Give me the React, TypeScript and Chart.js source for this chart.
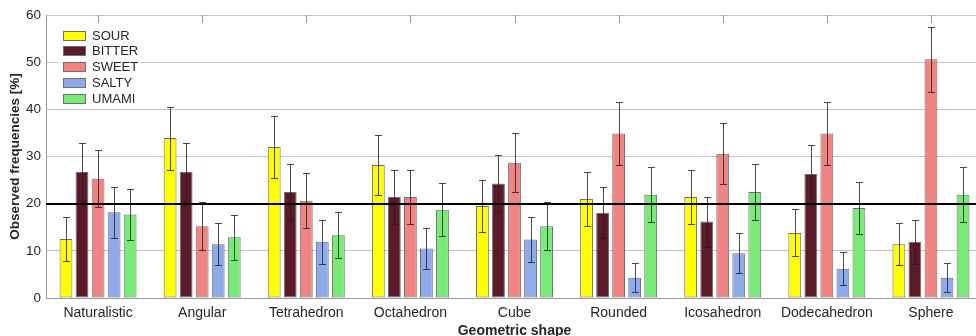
import React, { useEffect, useRef } from "react";
import { Chart, registerables } from "chart.js";

Chart.register(...registerables);

const categories = [
  "Naturalistic",
  "Angular",
  "Tetrahedron",
  "Octahedron",
  "Cube",
  "Rounded",
  "Icosahedron",
  "Dodecahedron",
  "Sphere",
];
const tastes = ["SOUR", "BITTER", "SWEET", "SALTY", "UMAMI"];
const sour = [12.5, 33.9, 32.0, 28.2, 19.5, 21.0, 21.4, 13.8, 11.4];
const bitter = [26.7, 26.7, 22.5, 21.4, 24.3, 18.1, 16.2, 26.3, 11.9];
const sweet = [25.3, 15.2, 20.6, 21.4, 28.7, 34.9, 30.6, 34.9, 50.6];
const salty = [18.2, 11.4, 11.9, 10.5, 12.4, 4.3, 9.5, 6.2, 4.3];
const umami = [17.7, 12.9, 13.3, 18.7, 15.2, 21.9, 22.5, 19.1, 21.9];
const sourErr = [4.7, 6.7, 6.5, 6.3, 5.5, 5.7, 5.8, 5.0, 4.5];
const bitterErr = [6.2, 6.2, 5.9, 5.8, 6.1, 5.45, 5.3, 6.15, 4.6];
const sweetErr = [6.1, 5.1, 5.8, 5.8, 6.3, 6.7, 6.45, 6.7, 6.9];
const saltyErr = [5.4, 4.5, 4.6, 4.35, 4.7, 3.1, 4.3, 3.5, 3.1];
const umamiErr = [5.4, 4.8, 4.9, 5.6, 5.1, 5.85, 5.9, 5.5, 5.85];
const chanceLevel = 20;
const yMin = 0;
const yMax = 60;
const yStep = 10;

const colors = ["#ffff00", "#5b1a27", "#f08482", "#8eaaea", "#78ea78"];
const FONT = "'Liberation Sans', Arial, Helvetica, sans-serif";
const TEXT = "#262626";

const overlayPlugin = {
  id: "overlay",
  beforeDatasetsDraw(chart: any) {
    const { ctx, chartArea, scales } = chart;
    const xs = scales.x;
    ctx.save();
    ctx.strokeStyle = "#9a9a9a";
    ctx.lineWidth = 1;
    for (let i = 0; i < xs.ticks.length; i++) {
      const px = Math.round(xs.getPixelForTick(i)) + 0.5;
      ctx.beginPath();
      ctx.moveTo(px, chartArea.top);
      ctx.lineTo(px, chartArea.top + 8);
      ctx.stroke();
    }
    ctx.restore();
  },
  afterDatasetsDraw(chart: any) {
    const { ctx, chartArea, scales } = chart;
    const ys = scales.y;
    ctx.save();
    // error bars
    ctx.strokeStyle = "rgba(30,30,30,0.8)";
    ctx.lineWidth = 1;
    chart.data.datasets.forEach((ds: any, i: number) => {
      const meta = chart.getDatasetMeta(i);
      meta.data.forEach((bar: any, j: number) => {
        const v = ds.data[j];
        const e = ds.errors[j];
        const cx = Math.round(bar.x) + 0.5;
        const yt = Math.round(ys.getPixelForValue(v + e)) + 0.5;
        const yb = Math.round(ys.getPixelForValue(v - e)) + 0.5;
        ctx.beginPath();
        ctx.moveTo(cx, yt);
        ctx.lineTo(cx, yb);
        ctx.moveTo(cx - 3.5, yt);
        ctx.lineTo(cx + 3.5, yt);
        ctx.moveTo(cx - 3.5, yb);
        ctx.lineTo(cx + 3.5, yb);
        ctx.stroke();
      });
    });
    // chance line
    const yc = Math.round(ys.getPixelForValue(chanceLevel));
    ctx.strokeStyle = "#000";
    ctx.lineWidth = 2;
    ctx.beginPath();
    ctx.moveTo(chartArea.left, yc);
    ctx.lineTo(chartArea.right, yc);
    ctx.stroke();

    // legend
    const lx = chartArea.left + 16.5;
    const ly = chartArea.top + 15.5;
    const rowH = 15.9;
    ctx.fillStyle = "#ffffff";
    ctx.fillRect(lx - 4, ly - 3, 82, 78);
    ctx.font = `13px ${FONT}`;
    ctx.textBaseline = "middle";
    ctx.textAlign = "left";
    chart.data.datasets.forEach((ds: any, i: number) => {
      const by = Math.round(ly + i * rowH);
      ctx.fillStyle = ds.backgroundColor;
      ctx.fillRect(Math.round(lx), by, 23, 10);
      ctx.strokeStyle = "#6e6e6e";
      ctx.lineWidth = 1;
      ctx.strokeRect(Math.round(lx) + 0.5, by + 0.5, 22, 9);
      ctx.fillStyle = TEXT;
      ctx.fillText(ds.label, lx + 29.5, by + 5.5);
    });
    ctx.restore();
  },
};

export default function App() {
  const ref = useRef<HTMLCanvasElement | null>(null);
  useEffect(() => {
    if (!ref.current) return;
    const values = [sour, bitter, sweet, salty, umami];
    const errs = [sourErr, bitterErr, sweetErr, saltyErr, umamiErr];
    const chart = new Chart(ref.current, {
      type: "bar",
      data: {
        labels: categories,
        datasets: tastes.map((t, i) => ({
          label: t,
          data: values[i],
          errors: errs[i],
          backgroundColor: colors[i],
          borderColor: "#6e6e6e",
          borderWidth: 1,
          borderSkipped: false,
          categoryPercentage: 0.77,
          barPercentage: 0.8,
        })) as any,
      },
      options: {
        responsive: false,
        animation: false,
        devicePixelRatio: 1,
        layout: { padding: { top: 15, left: 0, right: 0, bottom: 0 } },
        plugins: { legend: { display: false }, tooltip: { enabled: false } },
        scales: {
          x: {
            grid: { display: false, drawTicks: false },
            border: { display: true, color: "#9a9a9a", width: 1 },
            ticks: {
              color: TEXT,
              font: { family: FONT, size: 14 },
              padding: 7,
              maxRotation: 0,
              autoSkip: false,
            },
            title: {
              display: true,
              text: "Geometric shape",
              color: TEXT,
              font: { family: FONT, size: 14, weight: "bold" },
              padding: { top: 0, bottom: -3.5 },
            },
            afterFit(scale: any) {
              scale.height = 38;
            },
          },
          y: {
            min: yMin,
            max: yMax,
            grid: { color: "#c4c4c4", drawTicks: false, lineWidth: 1 },
            border: { display: true, color: "#9a9a9a", width: 1 },
            ticks: {
              stepSize: yStep,
              color: TEXT,
              font: { family: FONT, size: 13.5 },
              padding: 5,
            },
            title: {
              display: true,
              text: "Observed frequencies [%]",
              color: TEXT,
              font: { family: FONT, size: 13.5, weight: "bold" },
              padding: { top: 7.5, bottom: 0 },
            },
            afterFit(scale: any) {
              scale.width = 46;
            },
          },
        },
      },
      plugins: [overlayPlugin],
    });
    return () => chart.destroy();
  }, []);
  return (
    <div
      style={{
        position: "absolute",
        left: 0,
        top: 0,
        width: 976,
        height: 336,
        overflow: "hidden",
        background: "#fff",
      }}
    >
      <canvas ref={ref} width={983} height={336} style={{ display: "block" }} />
    </div>
  );
}
